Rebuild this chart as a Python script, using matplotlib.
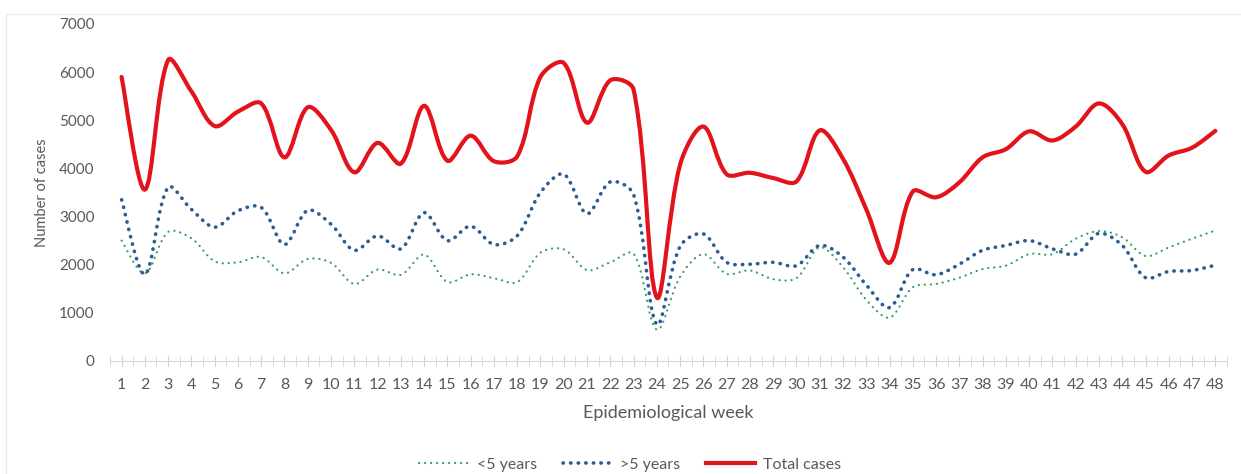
import matplotlib.pyplot as plt
import numpy as np
from matplotlib.path import Path
from matplotlib.patches import PathPatch, Rectangle
from matplotlib.lines import Line2D

weeks = list(range(1, 49))

under_5 = [2500, 1820, 2680, 2550, 2070, 2050, 2160, 1820, 2120, 2040, 1600, 1900,
           1790, 2210, 1640, 1800, 1720, 1640, 2250, 2320, 1890, 2050, 2230, 650,
           1750, 2220, 1810, 1880, 1700, 1720, 2360, 1950, 1270, 900, 1530, 1600,
           1730, 1910, 1980, 2220, 2220, 2540, 2700, 2570, 2180, 2360, 2540, 2710]

over_5 = [3350, 1800, 3610, 3150, 2780, 3120, 3190, 2420, 3130, 2840, 2300, 2600,
          2330, 3080, 2500, 2800, 2420, 2600, 3500, 3880, 3060, 3720, 3460, 760,
          2380, 2640, 2050, 2010, 2050, 1980, 2400, 2160, 1580, 1110, 1900, 1790,
          2010, 2300, 2400, 2500, 2330, 2220, 2650, 2400, 1730, 1860, 1880, 1990]

total_cases = [5900, 3560, 6250, 5600, 4880, 5180, 5350, 4230, 5270, 4800, 3920, 4530,
               4100, 5300, 4160, 4680, 4150, 4250, 5900, 6190, 4950, 5830, 5640, 1320,
               4080, 4870, 3880, 3910, 3800, 3730, 4790, 4200, 3150, 2040, 3520, 3400,
               3710, 4230, 4400, 4770, 4580, 4870, 5350, 4920, 3930, 4270, 4430, 4780]

series_labels = ['<5 years', '>5 years', 'Total cases']

plt.rcParams['font.family'] = ['Lato', 'DejaVu Sans']
grey = '#595959'


# smoothed line through the points: cubic bezier segments whose tangents
# are scaled by the on-screen length of the neighbouring segments
def smooth_path(ax, x, y):
    pts = np.column_stack([x, y]).astype(float)
    disp = ax.transData.transform(pts)
    seg = np.hypot(*np.diff(disp, axis=0).T)
    n = len(pts)
    verts = [pts[0]]
    codes = [Path.MOVETO]
    for i in range(n - 1):
        p0 = pts[i]
        p1 = pts[i + 1]
        if i == 0:
            c1 = p0 + (p1 - p0) / 6
        else:
            c1 = p0 + (p1 - pts[i - 1]) * seg[i] / (seg[i - 1] + seg[i]) / 3
        if i == n - 2:
            c2 = p1 - (p1 - p0) / 6
        else:
            c2 = p1 - (pts[i + 2] - p0) * seg[i] / (seg[i] + seg[i + 1]) / 3
        verts += [c1, c2, p1]
        codes += [Path.CURVE4] * 3
    return Path(verts, codes)


fig = plt.figure(figsize=(12.41, 4.74), dpi=100)
ax = fig.add_axes([0.0886, 0.2384, 0.9001, 0.711])
ax.set_xlim(0.5, 48.5)
ax.set_ylim(0, 7000)

# faint outer frame of the chart area
fig.patches.append(Rectangle((6 / 1241, -0.05), 1.0, 0.05 + 1 - 14 / 474,
                             transform=fig.transFigure, facecolor='none',
                             edgecolor='#ececec', linewidth=1))

styles = [
    dict(color='#3b9e66', linewidth=1.6, linestyle=(0, (0.1, 2.6)), capstyle='round'),
    dict(color='#2c5c94', linewidth=2.6, linestyle=(0, (0.1, 2.0)), capstyle='round'),
    dict(color='#e3131b', linewidth=3.0, linestyle='-', capstyle='round'),
]

for values, st in zip([under_5, over_5, total_cases], styles):
    patch = PathPatch(smooth_path(ax, weeks, values), facecolor='none',
                      edgecolor=st['color'], linewidth=st['linewidth'],
                      linestyle=st['linestyle'], capstyle=st['capstyle'])
    ax.add_patch(patch)

ax.set_xticks(weeks)
ax.set_xticks(np.arange(0.5, 49, 1), minor=True)
ax.set_yticks(range(0, 7001, 1000))

for side in ['top', 'right', 'left']:
    ax.spines[side].set_visible(False)
ax.spines['bottom'].set_color('#d9d9d9')
ax.tick_params(axis='x', which='both', direction='inout', length=7, color='#d0d0d0',
               labelsize=11.5, labelcolor=grey, pad=9)
ax.tick_params(axis='y', length=0, labelsize=11, labelcolor=grey, pad=11)

ax.set_xlabel('Epidemiological week', fontsize=13, color=grey, labelpad=9)
ax.set_ylabel('Number of cases', fontsize=10.5, color=grey, labelpad=7)

handles = [Line2D([], [], color=st['color'], linewidth=st['linewidth'],
                  linestyle=st['linestyle'], dash_capstyle=st['capstyle'])
           for st in styles]
fig.legend(handles, series_labels, loc='center', bbox_to_anchor=(0.508, 0.02), ncol=3,
           frameon=False, fontsize=11.5, labelcolor=grey, handlelength=3.1,
           columnspacing=1.6, handletextpad=0.5, borderpad=0)

fig.savefig('out.png', dpi=100)
